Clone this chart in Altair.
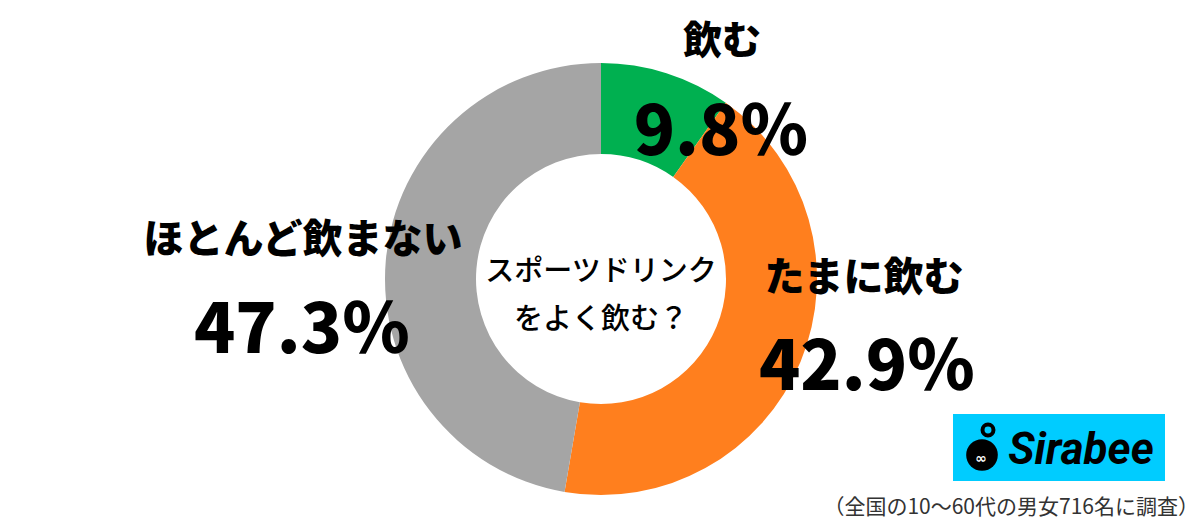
import altair as alt
import pandas as pd

categories = ["飲む", "たまに飲む", "ほとんど飲まない"]
values = [9.8, 42.9, 47.3]
colors = ["#00B050", "#FF7F1E", "#A5A5A5"]
pct_labels = ["9.8％", "42.9％", "47.3％"]
center_lines = ["スポーツドリンク", "をよく飲む？"]
footer = "（全国の10〜60代の男女716名に調査）"
brand = "Sirabee"

df = pd.DataFrame({"cat": categories, "val": values, "order": [0, 1, 2]})

W, H = 1200, 522
CX, CY = 601, 279

arc = alt.Chart(df).mark_arc(outerRadius=216, innerRadius=125, stroke=None).encode(
    theta=alt.Theta("val:Q", stack=True),
    order=alt.Order("order:Q"),
    color=alt.Color("cat:N", scale=alt.Scale(domain=categories, range=colors), legend=None),
    x=alt.value(CX), y=alt.value(CY),
)

FONT = "Noto Sans CJK JP"

def txt(s, x, y, size, weight="bold", align="center", color="#000000", font=FONT, baseline="middle", italic=False):
    kw = dict(text=s, fontSize=size, fontWeight=weight, align=align, baseline=baseline,
              font=font, color=color)
    if italic:
        kw["fontStyle"] = "italic"
    return alt.Chart(pd.DataFrame({"t": [s]})).mark_text(**kw).encode(
        x=alt.value(x), y=alt.value(y))

layers = [arc]
# category labels
layers.append(txt(categories[0], 722, 42, 39, weight=900))
layers.append(txt(categories[1], 864, 279, 40, weight=900))
layers.append(txt(categories[2], 303, 241, 40, weight=900))
# percent labels
layers.append(txt(pct_labels[0], 721, 135, 68, weight=900))
layers.append(txt(pct_labels[1], 867, 370, 68, weight=900))
layers.append(txt(pct_labels[2], 302, 333, 68, weight=900))
# center text
layers.append(txt(center_lines[0], 601, 272, 29, weight=500))
layers.append(txt(center_lines[1], 601, 320, 29, weight=500))
# footer
layers.append(txt(footer, 1199, 508, 21, weight=400, align="right", color="#333333"))

# logo
logo_rect = alt.Chart(pd.DataFrame({"a": [0]})).mark_rect(color="#00CCFF").encode(
    x=alt.value(953), x2=alt.value(1165), y=alt.value(414), y2=alt.value(481))
layers.append(logo_rect)
blob = alt.Chart(pd.DataFrame({"a": [0]})).mark_circle(color="#000000", opacity=1, size=1000).encode(
    x=alt.value(982), y=alt.value(455))
loop = alt.Chart(pd.DataFrame({"a": [0]})).mark_point(color="#000000", opacity=1, size=120, strokeWidth=4, filled=False).encode(
    x=alt.value(988), y=alt.value(430))
eyes = alt.Chart(pd.DataFrame({"a": [0]})).mark_text(text="∞", fontSize=14, color="#FFFFFF", font="DejaVu Sans", fontWeight="bold").encode(
    x=alt.value(981), y=alt.value(459))
layers += [blob, loop, eyes]
layers.append(txt(brand, 1081, 451, 44, weight="bold", font="Roboto", italic=True))

chart = alt.layer(*layers).properties(
    width=W, height=H, padding=0,
    autosize=alt.AutoSizeParams(type="none"),
    background="#FFFFFF",
).configure_view(strokeWidth=0)

chart.save("out.html", embed_options={"renderer": "svg", "actions": False})
